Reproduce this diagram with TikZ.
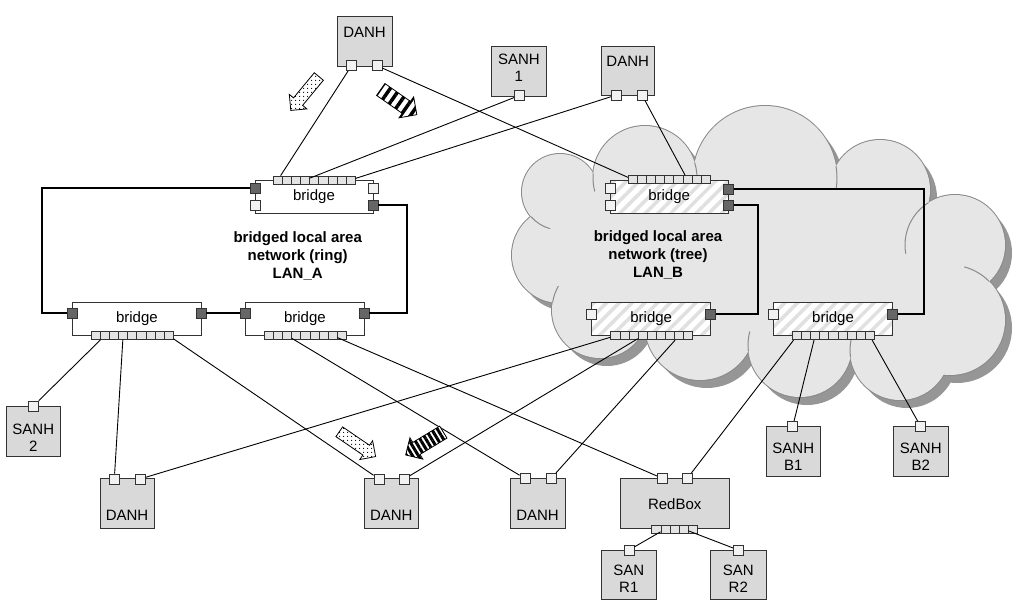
\documentclass[tikz,border=0pt]{standalone}
\usepackage{fontspec}
\setmainfont{Liberation Sans}
\usepackage{tikz}
\usetikzlibrary{patterns, patterns.meta}
\usetikzlibrary{calc}
\usetikzlibrary{shapes.arrows, positioning}

\definecolor{boxfill}{HTML}{D9D9D9}
\definecolor{cloudfill}{HTML}{E6E6E6}
\definecolor{cloudshade}{HTML}{969696}
\definecolor{cloudedge}{HTML}{8A8A8A}
\definecolor{portfill}{HTML}{F2F2F2}
\definecolor{cellfill}{HTML}{E3E3E3}
\definecolor{portdark}{HTML}{666666}
\definecolor{hatch}{HTML}{E0E0E0}
\definecolor{edge}{HTML}{333333}

\begin{document}
\begin{tikzpicture}[x=1pt, y=-1pt,
		txt/.style={font=\fontsize{15}{17.5}\selectfont, align=center, inner sep=0pt},
		lan/.style={font=\fontsize{15}{18}\selectfont\bfseries, align=center, inner sep=0pt},
		host/.style={draw=edge, line width=0.9pt, fill=boxfill, minimum height=50pt, inner sep=0pt},
		bridgeA/.style={draw=edge, line width=0.9pt, fill=white, minimum height=33.5pt, inner sep=0pt, font=\fontsize{15}{17.5}\selectfont},
		bridgeB/.style={bridgeA, preaction={fill=white}, pattern={Lines[angle=45, distance=9pt, line width=3.5pt]}, pattern color=hatch},
		port/.style={draw=edge, line width=0.8pt, fill=portfill, minimum size=10pt, inner sep=0pt},
		dport/.style={port, fill=portdark},
		cell/.style={draw=edge, line width=0.7pt, fill=cellfill, minimum width=9.1pt, minimum height=8pt, inner sep=0pt},
		link/.style={line width=0.9pt},
		ring/.style={line width=2.2pt},
		cloudarc/.style={cloudedge, line width=1pt},
		fat/.style={single arrow, draw=black, line width=0.8pt, minimum height=44pt, inner sep=0pt, inner ysep=5.5pt, single arrow head extend=5.5pt, preaction={fill=white}},
	]
	\useasboundingbox (0,0) rectangle (1024,604);
	
	% Cloud of LAN_B: shadow, outline, fill
	\fill[cloudshade, shift={(7,8)}] (560,192) -- (645,178) -- (765,178) -- (880,190) -- (955,245) -- (950,320) -- (900,350) -- (800,345) -- (700,325) -- (600,310) -- (560,255) -- cycle;
	\foreach \cx/\cy/\r in {560/192/38, 645/178/52, 765/178/72, 880/190/50, 955/245/50, 950/320/55, 900/350/50, 800/345/52, 700/325/55, 600/310/48, 560/255/48}
		\fill[cloudshade] (\cx+7,\cy+8) circle (\r pt);
	\foreach \cx/\cy/\r in {560/192/38, 645/178/52, 765/178/72, 880/190/50, 955/245/50, 950/320/55, 900/350/50, 800/345/52, 700/325/55, 600/310/48, 560/255/48}
		\draw[cloudedge, line width=2pt] (\cx,\cy) circle (\r pt);
	\foreach \cx/\cy/\r in {560/192/38, 645/178/52, 765/178/72, 880/190/50, 955/245/50, 950/320/55, 900/350/50, 800/345/52, 700/325/55, 600/310/48, 560/255/48}
		\fill[cloudfill] (\cx,\cy) circle (\r pt);
	\fill[cloudfill] (560,192) -- (645,178) -- (765,178) -- (880,190) -- (955,245) -- (950,320) -- (900,350) -- (800,345) -- (700,325) -- (600,310) -- (560,255) -- cycle;
	% inner folds of the cloud
	\foreach \cx/\cy/\r/\from/\to in {645/178/52/17.2/-5, 765/178/72/9.5/-8, 955/245/50/122.2/190, 950/320/55/44.5/75, 900/350/50/188.5/165, 800/345/52/187/165, 700/325/55/192/172, 600/310/48/170.9/150, 560/192/38/220.5/255, 645/178/52/174.9/195}
		\draw[cloudarc] (\cx,\cy) ++(\from:\r pt) arc[start angle=\from, end angle=\to, radius=\r pt];
	
	% Bridges
	\node[bridgeA, minimum width=118pt] (atop) at (314,196.75) {bridge};
	\node[bridgeA, minimum width=128.3pt] (aleft) at (136.85,318.75) {bridge};
	\node[bridgeA, minimum width=118.3pt] (amid) at (304.85,318.75) {bridge};
	\node[bridgeB, minimum width=118.3pt] (btop) at (669.15,196.75) {bridge};
	\node[bridgeB, minimum width=119pt] (bleft) at (651.2,318.75) {bridge};
	\node[bridgeB, minimum width=119.4pt] (bright) at (833,318.75) {bridge};
	
	% Port strips
	\foreach \b/\sx/\sy in {atop/314.2/180, aleft/132.2/335.5, amid/305.3/335.5, btop/669.2/179.5, bleft/651.7/335.8, bright/833.3/335.8}
		\foreach \i in {1,...,9}
			\node[cell] (\b-c\i) at ({\sx+(\i-5)*9.1},\sy) {};
	
	% Side ports
	\node[dport] (atop-w1) at (255,188) {};
	\node[port] (atop-w2) at (255,205) {};
	\node[port] (atop-e1) at (373,188) {};
	\node[dport] (atop-e2) at (373,205) {};
	\node[dport] (aleft-w) at (72.7,313) {};
	\node[dport] (aleft-e) at (201,313) {};
	\node[dport] (amid-w) at (245.7,313) {};
	\node[dport] (amid-e) at (364,313) {};
	\node[port] (btop-w1) at (610,188) {};
	\node[port] (btop-w2) at (610,205) {};
	\node[dport] (btop-e1) at (728.3,189) {};
	\node[dport] (btop-e2) at (728.3,205) {};
	\node[port] (bleft-w) at (591.7,314) {};
	\node[dport] (bleft-e) at (710.7,314) {};
	\node[port] (bright-w) at (773.3,314) {};
	\node[dport] (bright-e) at (892.7,314) {};
	
	% LAN labels
	\node[lan] (lanA) at (297.7,256) {bridged local area\\network (ring)\\LAN\_A};
	\node[lan] (lanB) at (658,255.3) {bridged local area\\network (tree)\\LAN\_B};
	
	% Nodes
	\node[host, minimum width=55pt] (t1) at (364.5,41) {};
	\node[txt] (t1-t) at (364.5,32.3) {DANH};
	\node[port] (t1-p1) at (351.5,65.7) {};
	\node[port] (t1-p2) at (377,65.7) {};
	
	\node[host, minimum width=54.3pt] (s1) at (518.9,71) {};
	\node[txt] (s1-t) at (518.9,68) {SANH\\1};
	\node[port] (s1-p) at (519.3,95.5) {};
	
	\node[host, minimum width=53.3pt, minimum height=49pt] (t2) at (627.7,70.5) {};
	\node[txt] (t2-t) at (627.7,61) {DANH};
	\node[port] (t2-p1) at (616.3,95) {};
	\node[port] (t2-p2) at (642,95) {};
	
	\node[host, minimum width=54.7pt] (s2) at (33.3,431) {};
	\node[txt] (s2-t) at (33.3,438) {SANH\\2};
	\node[port] (s2-p) at (33.3,406) {};
	
	\node[host, minimum width=54pt] (d1) at (127,503) {};
	\node[txt] (d1-t) at (127,515) {DANH};
	\node[port] (d1-p1) at (114.3,479) {};
	\node[port] (d1-p2) at (140,479) {};
	
	\node[host, minimum width=54pt] (d2) at (391.3,503) {};
	\node[txt] (d2-t) at (391.3,515) {DANH};
	\node[port] (d2-p1) at (379,479) {};
	\node[port] (d2-p2) at (404.3,479) {};
	
	\node[host, minimum width=55pt] (d3) at (537.5,503) {};
	\node[txt] (d3-t) at (537.5,515) {DANH};
	\node[port] (d3-p1) at (525,478.5) {};
	\node[port] (d3-p2) at (551,478.5) {};
	
	\node[host, minimum width=109.3pt] (rb) at (674.7,503.3) {};
	\node[txt] (rb-t) at (674.7,504) {RedBox};
	\node[port] (rb-p1) at (662.3,478.3) {};
	\node[port] (rb-p2) at (687.3,478.3) {};
	\foreach \i in {1,...,5}
		\node[cell] (rb-c\i) at ({674.5+(\i-3)*9.1},529) {};
	
	\node[host, minimum width=54.3pt, minimum height=49.3pt] (sr1) at (628.8,574.7) {};
	\node[txt] (sr1-t) at (628.8,579) {SAN\\R1};
	\node[port] (sr1-p) at (629,550) {};
	\node[host, minimum width=55.3pt, minimum height=49.3pt] (sr2) at (738.3,574.7) {};
	\node[txt] (sr2-t) at (738.3,579) {SAN\\R2};
	\node[port] (sr2-p) at (738.3,550) {};
	
	\node[host, minimum width=54.7pt] (sb1) at (793.3,451) {};
	\node[txt] (sb1-t) at (793.3,456.7) {SANH\\B1};
	\node[port] (sb1-p) at (792.7,426.5) {};
	\node[host, minimum width=55pt] (sb2) at (920.8,451) {};
	\node[txt] (sb2-t) at (920.8,456.7) {SANH\\B2};
	\node[port] (sb2-p) at (920.7,426.5) {};
	
	% Ring and tree trunks
	\coordinate (ringA-l) at (42,313);
	\coordinate (ringA-r) at (407,313);
	\coordinate (treeB-r) at (924.3,189);
	\coordinate (treeB-m) at (757.7,205);
	\draw[ring] (atop-w1) -| (ringA-l) -- (aleft-w);
	\draw[ring] (aleft-e) -- (amid-w);
	\draw[ring] (amid-e) -- (ringA-r) |- (atop-e2);
	\draw[ring] (btop-e1) -- (treeB-r) |- (bright-e);
	\draw[ring] (btop-e2) -- (treeB-m) |- (bleft-e);
	
	% Links
	\draw[link] (t1-p1) -- (atop-c1);
	\draw[link] (t1-p2) -- (btop-c1);
	\draw[link] (s1-p) -- (atop-c4);
	\draw[link] (t2-p1) -- (atop-c9);
	\draw[link] (t2-p2) -- (btop-c7);
	\draw[link] (s2-p) -- (aleft-c2);
	\draw[link] (d1-p1) -- (aleft-c4);
	\draw[link] (d1-p2) -- (bleft-c1);
	\draw[link] (d2-p1) -- (aleft-c9);
	\draw[link] (d2-p2) -- (bleft-c4);
	\draw[link] (d3-p1) -- (amid-c3);
	\draw[link] (d3-p2) -- (bleft-c8);
	\draw[link] (rb-p1) -- (amid-c8);
	\draw[link] (rb-p2) -- (bright-c1);
	\draw[link] (sb1-p) -- (bright-c3);
	\draw[link] (sb2-p) -- (bright-c9);
	\draw[link] (rb-c2) -- (sr1-p);
	\draw[link] (rb-c4) -- (sr2-p);
	
	% Frame flow arrows
	\node[fat, rotate=230.4, pattern={Dots[distance=4pt, radius=0.7pt]}] (arrTL) at (306.7,91.2) {};
	\node[fat, rotate=-34.9, pattern={Lines[angle=55, distance=8pt, line width=3.5pt]}] (arrTR) at (395.8,100) {};
	\node[fat, rotate=-34.3, pattern={Dots[distance=4pt, radius=0.7pt]}] (arrBL) at (355,442.5) {};
	\node[fat, rotate=211.2, pattern={Lines[angle=121, distance=5pt, line width=3pt]}] (arrBR) at (427.5,441.7) {};
\end{tikzpicture}
\end{document}
